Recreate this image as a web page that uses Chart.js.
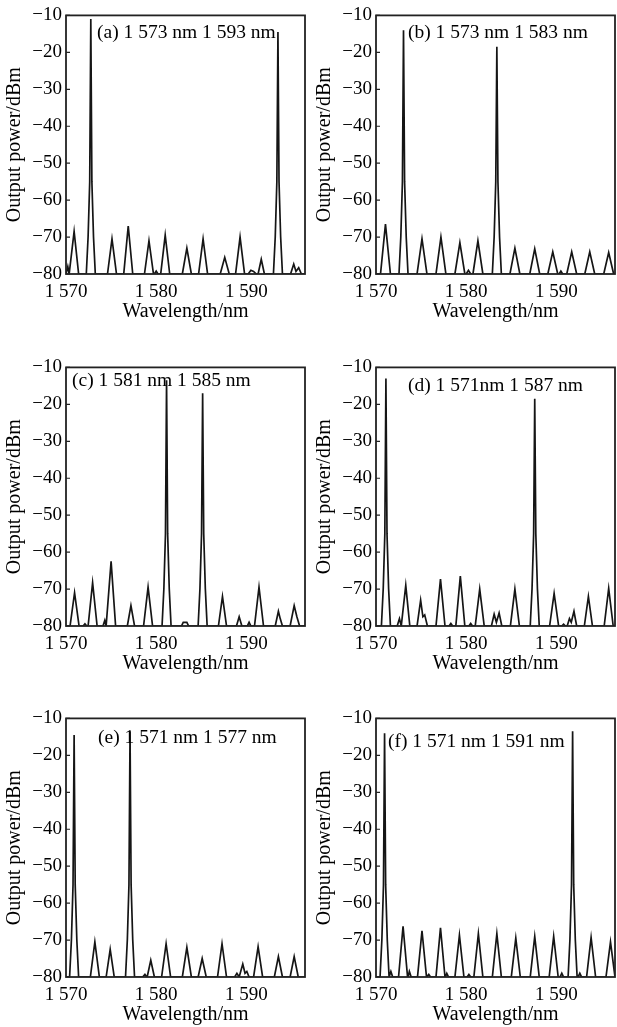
<!DOCTYPE html>
<html>
<head>
<meta charset="utf-8">
<script src="https://cdn.jsdelivr.net/npm/chart.js@4/dist/chart.umd.min.js"></script>
<style>
  html, body { margin: 0; padding: 0; background: #fff; overflow: hidden; }
  body { width: 617px; height: 1027px; position: relative; }
  canvas { position: absolute; }
</style>
</head>
<body>
<canvas id="ca" width="308" height="324" style="left:0;top:0"></canvas>
<canvas id="cb" width="308" height="324" style="left:310px;top:0"></canvas>
<canvas id="cc" width="308" height="324" style="left:0;top:352px"></canvas>
<canvas id="cd" width="308" height="324" style="left:310px;top:352px"></canvas>
<canvas id="ce" width="308" height="324" style="left:0;top:703px"></canvas>
<canvas id="cf" width="308" height="324" style="left:310px;top:703px"></canvas>
<script>
// axis ticks
const xTicks = [1570, 1580, 1590];
const yTicks = [-80, -70, -60, -50, -40, -30, -20, -10];

// panel labels
const notes = [
  "(a) 1 573 nm 1 593 nm",
  "(b) 1 573 nm 1 583 nm",
  "(c) 1 581 nm 1 585 nm",
  "(d) 1 571nm 1 587 nm",
  "(e) 1 571 nm 1 577 nm",
  "(f) 1 571 nm 1 591 nm"
];

// spectra: [wavelength nm, power dBm]
const spectrumA = [
  [1570, -80], [1570.2, -78], [1570.35, -80],
  [1570.4, -80], [1570.9, -68.5], [1571.4, -80],
  [1572.25, -80], [1572.45, -70], [1572.63, -55], [1572.75, -11], [1572.87, -55], [1573.05, -70], [1573.25, -80],
  [1574.6, -80], [1575.1, -70.5], [1575.6, -80],
  [1576.4, -80], [1576.9, -67], [1577.4, -80],
  [1578.7, -80], [1579.2, -71], [1579.7, -80],
  [1579.8, -80], [1580.0, -79.2], [1580.2, -80],
  [1580.5, -80], [1581.0, -69.5], [1581.5, -80],
  [1582.9, -80], [1583.4, -73], [1583.9, -80],
  [1584.7, -80], [1585.2, -70.5], [1585.7, -80],
  [1587.1, -80], [1587.6, -75.5], [1588.1, -80],
  [1588.8, -80], [1589.3, -70], [1589.8, -80],
  [1590.2, -80], [1590.5, -79], [1590.8, -79.3], [1591.1, -80],
  [1591.3, -80], [1591.65, -76], [1592.0, -80],
  [1593.0, -80], [1593.2, -70], [1593.38, -55], [1593.5, -14.5], [1593.62, -55], [1593.8, -70], [1594.0, -80],
  [1594.9, -80], [1595.25, -77.3], [1595.5, -79.3], [1595.8, -78.3], [1596.1, -80],
  [1596.5, -80]
];

const spectrumB = [
  [1570, -80],
  [1570.5, -80], [1571.05, -66.5], [1571.6, -80],
  [1572.55, -80], [1572.75, -70], [1572.93, -55], [1573.05, -14], [1573.17, -55], [1573.35, -70], [1573.55, -80],
  [1574.55, -80], [1575.1, -70.5], [1575.65, -80],
  [1576.65, -80], [1577.2, -70], [1577.75, -80],
  [1578.75, -80], [1579.3, -71.5], [1579.85, -80],
  [1580.0, -80], [1580.25, -79], [1580.5, -80],
  [1580.75, -80], [1581.3, -71], [1581.85, -80],
  [1582.9, -80], [1583.1, -70], [1583.28, -55], [1583.4, -18.5], [1583.52, -55], [1583.7, -70], [1583.9, -80],
  [1584.85, -80], [1585.4, -73], [1585.95, -80],
  [1587.05, -80], [1587.6, -73.2], [1588.15, -80],
  [1589.05, -80], [1589.6, -74], [1590.15, -80],
  [1590.3, -80], [1590.5, -79.2], [1590.7, -80],
  [1591.15, -80], [1591.7, -74], [1592.25, -80],
  [1593.15, -80], [1593.7, -74], [1594.25, -80],
  [1595.25, -80], [1595.8, -74.2], [1596.35, -80],
  [1596.5, -80]
];

const spectrumC = [
  [1570, -80],
  [1570.45, -80], [1570.95, -71], [1571.45, -80],
  [1571.9, -80], [1572.1, -79.4], [1572.3, -80],
  [1572.45, -80], [1572.95, -68.3], [1573.45, -80],
  [1574.1, -80], [1574.3, -78.5], [1574.45, -80],
  [1574.5, -80], [1575.0, -62.5], [1575.5, -80],
  [1576.8, -80], [1577.2, -74.5], [1577.6, -80],
  [1578.6, -80], [1579.1, -69.5], [1579.6, -80],
  [1580.65, -80], [1580.85, -70], [1581.03, -55], [1581.15, -13.5], [1581.27, -55], [1581.45, -70], [1581.65, -80],
  [1582.8, -80], [1583.0, -79], [1583.4, -79], [1583.6, -80],
  [1584.65, -80], [1584.85, -70], [1585.03, -55], [1585.15, -17], [1585.27, -55], [1585.45, -70], [1585.65, -80],
  [1586.9, -80], [1587.35, -72], [1587.8, -80],
  [1588.9, -80], [1589.2, -77.5], [1589.5, -80],
  [1590.1, -80], [1590.3, -79], [1590.5, -80],
  [1590.9, -80], [1591.4, -69.5], [1591.9, -80],
  [1593.2, -80], [1593.55, -76], [1593.75, -78], [1594.0, -80],
  [1594.85, -80], [1595.3, -74.5], [1595.6, -77.5], [1595.9, -80],
  [1596.5, -80]
];

const spectrumD = [
  [1570, -80],
  [1570.6, -80], [1570.8, -70], [1570.98, -55], [1571.1, -13], [1571.22, -55], [1571.4, -70], [1571.6, -80],
  [1572.35, -80], [1572.6, -78], [1572.8, -80],
  [1572.85, -80], [1573.3, -69], [1573.75, -80],
  [1574.55, -80], [1574.95, -73], [1575.2, -77.5], [1575.4, -77], [1575.7, -80],
  [1576.65, -80], [1577.15, -67.3], [1577.65, -80],
  [1578.1, -80], [1578.3, -79.3], [1578.5, -80],
  [1578.85, -80], [1579.35, -66.5], [1579.85, -80],
  [1580.3, -80], [1580.5, -79.3], [1580.7, -80],
  [1581.0, -80], [1581.5, -70], [1582.0, -80],
  [1582.8, -80], [1583.1, -76.8], [1583.35, -79], [1583.65, -76.5], [1583.95, -80],
  [1584.9, -80], [1585.4, -70], [1585.9, -80],
  [1587.1, -80], [1587.3, -70], [1587.48, -55], [1587.6, -18.5], [1587.72, -55], [1587.9, -70], [1588.1, -80],
  [1589.25, -80], [1589.75, -71.2], [1590.25, -80],
  [1590.6, -80], [1590.8, -79.5], [1591.0, -80],
  [1591.2, -80], [1591.45, -78], [1591.65, -79], [1591.95, -76], [1592.25, -80],
  [1593.1, -80], [1593.55, -72], [1594.0, -80],
  [1595.3, -80], [1595.8, -69.8], [1596.3, -80],
  [1596.5, -80]
];

const spectrumE = [
  [1570, -80],
  [1570.4, -80], [1570.6, -70], [1570.78, -55], [1570.9, -14.5], [1571.02, -55], [1571.2, -70], [1571.4, -80],
  [1572.7, -80], [1573.2, -70.5], [1573.7, -80],
  [1574.45, -80], [1574.9, -72.5], [1575.35, -80],
  [1576.6, -80], [1576.8, -70], [1576.98, -55], [1577.1, -13.5], [1577.22, -55], [1577.4, -70], [1577.6, -80],
  [1578.5, -80], [1578.75, -79.3], [1578.95, -80],
  [1579.0, -80], [1579.4, -75.5], [1579.8, -80],
  [1580.6, -80], [1581.1, -71], [1581.6, -80],
  [1582.9, -80], [1583.4, -72], [1583.9, -80],
  [1584.65, -80], [1585.1, -75], [1585.55, -80],
  [1586.8, -80], [1587.3, -71], [1587.8, -80],
  [1588.7, -80], [1588.95, -79], [1589.2, -80],
  [1589.25, -80], [1589.6, -76.5], [1589.85, -79], [1590.05, -78.5], [1590.3, -80],
  [1590.8, -80], [1591.3, -71.8], [1591.8, -80],
  [1593.1, -80], [1593.55, -74.5], [1594.0, -80],
  [1594.85, -80], [1595.3, -74.5], [1595.75, -80],
  [1596.5, -80]
];

const spectrumF = [
  [1570, -80],
  [1570.45, -80], [1570.65, -70], [1570.83, -55], [1570.95, -14], [1571.07, -55], [1571.25, -70], [1571.45, -80],
  [1571.5, -80], [1571.65, -78.5], [1571.85, -80],
  [1572.5, -80], [1573.0, -66.3], [1573.5, -80],
  [1573.55, -80], [1573.7, -78.5], [1573.9, -80],
  [1574.6, -80], [1575.1, -67.5], [1575.6, -80],
  [1575.65, -80], [1575.85, -79.3], [1576.05, -80],
  [1576.65, -80], [1577.15, -66.7], [1577.65, -80],
  [1577.7, -80], [1577.85, -79], [1578.05, -80],
  [1578.75, -80], [1579.25, -68.7], [1579.75, -80],
  [1580.1, -80], [1580.3, -79.3], [1580.5, -80],
  [1580.85, -80], [1581.35, -68.3], [1581.85, -80],
  [1582.9, -80], [1583.4, -68.3], [1583.9, -80],
  [1585.0, -80], [1585.5, -69.5], [1586.0, -80],
  [1587.1, -80], [1587.6, -69], [1588.1, -80],
  [1589.2, -80], [1589.7, -69], [1590.2, -80],
  [1590.4, -80], [1590.6, -79], [1590.8, -80],
  [1591.3, -80], [1591.5, -70], [1591.68, -55], [1591.8, -13.5], [1591.92, -55], [1592.1, -70], [1592.3, -80],
  [1592.4, -80], [1592.6, -79], [1592.8, -80],
  [1593.35, -80], [1593.85, -69.3], [1594.35, -80],
  [1595.5, -80], [1596.0, -70.5], [1596.5, -80]
];

Chart.defaults.font.family = '"Liberation Serif", "DejaVu Serif", serif';
Chart.defaults.color = '#000';

// box around the plot plus short inward ticks, then the panel label
const framePlugin = {
  id: 'frame',
  afterDatasetsDraw(chart, args, opts) {
    const { ctx, chartArea: a, scales } = chart;
    ctx.save();
    ctx.strokeStyle = '#222';
    ctx.lineWidth = 1.8;
    ctx.strokeRect(a.left, a.top, a.right - a.left, a.bottom - a.top);
    ctx.lineWidth = 1.2;
    ctx.beginPath();
    scales.y.ticks.forEach(t => {
      const py = scales.y.getPixelForValue(t.value);
      ctx.moveTo(a.left, py);
      ctx.lineTo(a.left + 4, py);
    });
    ctx.stroke();

    ctx.fillStyle = '#000';
    ctx.font = '19.5px "Liberation Serif", serif';
    ctx.textBaseline = 'middle';
    ctx.fillText(opts.text, a.left + opts.dx, a.top + opts.dy);
    ctx.restore();
  }
};

function fmtX(v) {
  const s = String(v);
  return s.slice(0, 1) + ' ' + s.slice(1);
}

function makePanel(id, data, note, dx, dy) {
  new Chart(document.getElementById(id), {
    type: 'scatter',
    data: {
      datasets: [{
        data: data.map(p => ({ x: p[0], y: p[1] })),
        showLine: true,
        borderColor: '#151515',
        borderWidth: 1.7,
        pointRadius: 0,
        tension: 0
      }]
    },
    options: {
      responsive: false,
      animation: false,
      layout: { padding: { left: 0, right: 3, top: 10, bottom: 0 } },
      plugins: {
        legend: { display: false },
        tooltip: { enabled: false },
        frame: { text: note, dx: dx, dy: dy }
      },
      scales: {
        x: {
          type: 'linear',
          min: 1570,
          max: 1596.5,
          grid: { display: false, drawTicks: false },
          border: { display: false },
          afterBuildTicks: s => { s.ticks = xTicks.map(v => ({ value: v })); },
          afterFit: s => { s.height = 50; },
          ticks: { font: { size: 19 }, padding: 7, maxRotation: 0, callback: v => fmtX(v) },
          title: { display: true, text: 'Wavelength/nm', font: { size: 20 }, padding: 0 }
        },
        y: {
          min: -80,
          max: -10,
          grid: { display: false, drawTicks: false },
          border: { display: false },
          afterBuildTicks: s => { s.ticks = yTicks.map(v => ({ value: v })); },
          afterFit: s => { s.width = 66; },
          ticks: { font: { size: 19 }, padding: 4, callback: v => '\u2212' + Math.abs(v) },
          title: { display: true, text: 'Output power/dBm', font: { size: 20 }, padding: { top: 3, bottom: 0 } }
        }
      }
    },
    plugins: [framePlugin]
  });
}

makePanel('ca', spectrumA, notes[0], 31, 17);
makePanel('cb', spectrumB, notes[1], 32, 17);
makePanel('cc', spectrumC, notes[2], 6, 13);
makePanel('cd', spectrumD, notes[3], 32, 18);
makePanel('ce', spectrumE, notes[4], 32, 19);
makePanel('cf', spectrumF, notes[5], 12, 23);
</script>
</body>
</html>
